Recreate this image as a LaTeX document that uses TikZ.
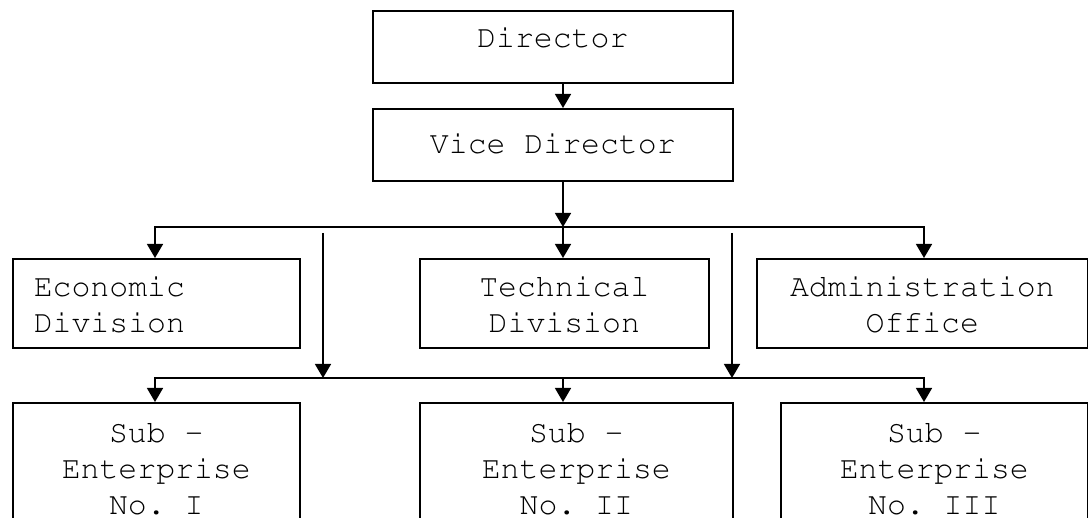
\documentclass[tikz,border=0pt]{standalone}
\usetikzlibrary{arrows.meta}
\newcommand{\orgcourier}{\fontencoding{T1}\fontfamily{pcr}\fontseries{m}\fontshape{n}\fontsize{31.5}{36}\selectfont\frenchspacing}
\begin{document}
\begin{tikzpicture}[x=1pt,y=-1pt,
  orgbox/.style={draw, line width=1.6pt, inner sep=0pt, anchor=north west,
    font=\orgcourier},
  arr/.style={line width=1.5pt, line join=miter, -{Triangle[width=16pt,length=14pt]}},
  dblarr/.style={line width=1.5pt, line join=miter, {Triangle[width=16pt,length=14pt]}-{Triangle[width=16pt,length=14pt]}}]
\useasboundingbox (0,0) rectangle (1088,518);
\clip (0,0) rectangle (1088,518);
% boxes
\node[orgbox] (dir) at (372,10) {\parbox[c][72pt][t]{360pt}{\centering\rule{0pt}{37pt}Director}};
\node[orgbox] (vice) at (372,108) {\parbox[c][72pt][t]{360pt}{\centering\rule{0pt}{45pt}Vice Director}};
\node[orgbox] (econ) at (12,258) {\parbox[c][89pt][t]{287pt}{\raggedright\leftskip=21pt\rule{0pt}{38pt}Economic\\Division}};
\node[orgbox] (tech) at (419,258) {\parbox[c][89pt][t]{289pt}{\centering\rule{0pt}{38pt}Technical\\Division}};
\node[orgbox] (admin) at (756,258) {\parbox[c][89pt][t]{331pt}{\centering\rule{0pt}{38pt}Administration\\Office}};
\node[orgbox] (sub1) at (12,402) {\parbox[c][158pt][t]{287pt}{\centering\rule{0pt}{40pt}Sub \textendash\\Enterprise\\No. I}};
\node[orgbox] (sub2) at (419,402) {\parbox[c][158pt][t]{313pt}{\centering\rule{0pt}{40pt}Sub \textendash\\Enterprise\\No. II}};
\node[orgbox] (sub3) at (780,402) {\parbox[c][158pt][t]{307pt}{\centering\rule{0pt}{40pt}Sub \textendash\\Enterprise\\No. III}};
% bus coordinates
\coordinate (b1L) at (155,227);
\coordinate (b1M) at (563,227);
\coordinate (b1R) at (924,227);
\coordinate (b2L) at (155,378);
\coordinate (b2M) at (563,378);
\coordinate (b2R) at (924,378);
\coordinate (tL) at (323,233);
\coordinate (tR) at (732,233);
% connectors
\draw[arr] (dir.south -| b1M) -- (vice.north -| b1M);
\draw[arr] (vice.south -| b1M) -- (b1M);
\draw[dblarr] (econ.north -| b1L) |- (b1R) -- (admin.north -| b1R);
\draw[arr] (b1M) -- (tech.north -| b1M);
\draw[arr] (tL) -- (tL |- b2M);
\draw[arr] (tR) -- (tR |- b2M);
\draw[dblarr] (sub1.north -| b2L) |- (b2R) -- (sub3.north -| b2R);
\draw[arr] (b2M) -- (sub2.north -| b2M);
\end{tikzpicture}
\end{document}
